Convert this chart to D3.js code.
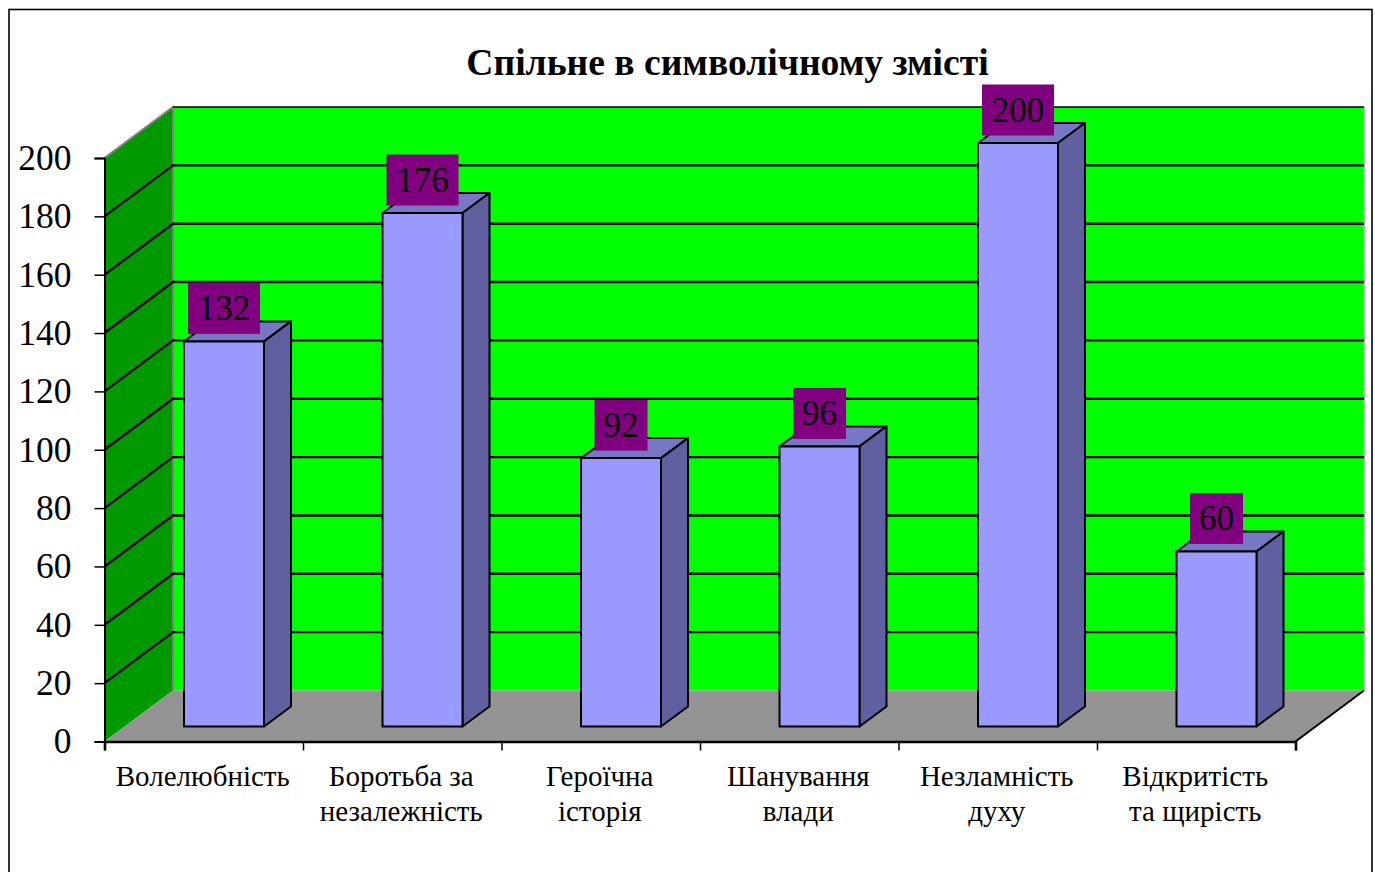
<!DOCTYPE html>
<html>
<head>
<meta charset="utf-8">
<script src="https://cdnjs.cloudflare.com/ajax/libs/d3/7.8.5/d3.min.js"></script>
<style>
html, body { margin: 0; padding: 0; background: #fff; overflow: hidden; }
svg { display: block; }
text { font-family: "Liberation Serif", serif; fill: #000; }
</style>
</head>
<body>
<div id="chart"></div>
<script>
var titleText = "Спільне в символічному змісті";
var categories = ["Волелюбність", "Боротьба за незалежність", "Героїчна історія", "Шанування влади", "Незламність духу", "Відкритість та щирість"];
var categoryLines = [["Волелюбність"], ["Боротьба за", "незалежність"], ["Героїчна", "історія"], ["Шанування", "влади"], ["Незламність", "духу"], ["Відкритість", "та щирість"]];
var values = [132, 176, 92, 96, 200, 60];
var yTicks = [0, 20, 40, 60, 80, 100, 120, 140, 160, 180, 200];

var width = 1375, height = 872;
var wallDx = 68.5, wallDy = -51; // depth of the 3d box
var barDx = 27, barDy = -20;     // depth of a bar
var barLift = 15;                // bar stands in the middle of the floor
var barLeft = 79.5, barWidth = 80;

var svg = d3.select("#chart").append("svg")
    .attr("width", width)
    .attr("height", height);

var x = d3.scaleBand().domain(categories).range([104.5, 1295.5]);
var y = d3.scaleLinear().domain([0, 200]).range([741.5, 158]);
var line = d3.line();

// outer frame, runs off the bottom of the page
svg.append("rect")
    .attr("x", 9).attr("y", 9.5)
    .attr("width", 1363).attr("height", 900)
    .attr("fill", "#fff").attr("stroke", "#000").attr("stroke-width", 1.6);

svg.append("text")
    .attr("x", 727.5).attr("y", 75)
    .attr("text-anchor", "middle")
    .attr("font-size", 37.6).attr("font-weight", "bold")
    .text(titleText);

var x0 = x.range()[0], x1 = x.range()[1], y0 = y(0), yTop = y(200);

// back wall
svg.append("path")
    .attr("d", line([[x0 + wallDx, yTop + wallDy], [x1 + wallDx, yTop + wallDy], [x1 + wallDx, y0 + wallDy], [x0 + wallDx, y0 + wallDy]]) + "Z")
    .attr("fill", "#00ff00");
// side wall
svg.append("path")
    .attr("d", line([[x0, yTop], [x0 + wallDx, yTop + wallDy], [x0 + wallDx, y0 + wallDy], [x0, y0]]) + "Z")
    .attr("fill", "#009900");
// floor
svg.append("path")
    .attr("d", line([[x0, y0], [x0 + wallDx, y0 + wallDy], [x1 + wallDx, y0 + wallDy], [x1, y0]]) + "Z")
    .attr("fill", "#949494");

// wall edges
svg.append("path")
    .attr("d", line([[x0, yTop], [x0 + wallDx, yTop + wallDy], [x0 + wallDx, y0 + wallDy]]))
    .attr("fill", "none").attr("stroke", "#808080").attr("stroke-width", 2);
svg.append("path")
    .attr("d", line([[x1 + wallDx, yTop + wallDy], [x1 + wallDx, y0 + wallDy]]))
    .attr("fill", "none").attr("stroke", "#b0b0b0").attr("stroke-width", 2);

// grid lines on both walls, the top one only along the back wall
svg.append("g").selectAll("path")
    .data(yTicks.filter(d => d > 0))
    .join("path")
    .attr("d", d => d === 200
        ? line([[x0 + wallDx, y(d) + wallDy], [x1 + wallDx, y(d) + wallDy]])
        : line([[x0, y(d)], [x0 + wallDx, y(d) + wallDy], [x1 + wallDx, y(d) + wallDy]]))
    .attr("fill", "none")
    .attr("stroke", "#000")
    .attr("stroke-width", d => d === 200 ? 1.5 : 2.4);

// floor right edge
svg.append("path")
    .attr("d", line([[x1, y0], [x1 + wallDx, y0 + wallDy]]))
    .attr("fill", "none").attr("stroke", "#000").attr("stroke-width", 2);

// bars
var bars = svg.append("g").selectAll("g")
    .data(values.map((v, i) => ({ cat: categories[i], val: v })))
    .join("g")
    .attr("stroke", "#000").attr("stroke-width", 2).attr("stroke-linejoin", "round");

bars.append("path") // top face
    .attr("fill", "#7777c4")
    .attr("d", d => {
        var l = x(d.cat) + barLeft, t = y(d.val) - barLift;
        return line([[l, t], [l + barDx, t + barDy], [l + barWidth + barDx, t + barDy], [l + barWidth, t]]) + "Z";
    });
bars.append("path") // side face
    .attr("fill", "#6060a0")
    .attr("d", d => {
        var r = x(d.cat) + barLeft + barWidth, t = y(d.val) - barLift, b = y(0) - barLift;
        return line([[r, t], [r + barDx, t + barDy], [r + barDx, b + barDy], [r, b]]) + "Z";
    });
bars.append("rect") // front face
    .attr("fill", "#9999ff")
    .attr("x", d => x(d.cat) + barLeft)
    .attr("y", d => y(d.val) - barLift)
    .attr("width", barWidth)
    .attr("height", d => y(0) - y(d.val));

// value labels
var labels = svg.append("g").selectAll("g")
    .data(values.map((v, i) => ({ cat: categories[i], val: v })))
    .join("g")
    .attr("transform", d => `translate(${x(d.cat) + barLeft + barWidth / 2},${y(d.val) - barLift - 33})`);
labels.append("rect")
    .attr("x", d => String(d.val).length > 2 ? -36 : -26.5)
    .attr("width", d => String(d.val).length > 2 ? 72 : 53)
    .attr("y", -25.5)
    .attr("height", 51)
    .attr("fill", "#800080");
labels.append("text")
    .attr("text-anchor", "middle")
    .attr("y", 12)
    .attr("font-size", 35)
    .text(d => d.val);

// y axis
var yAxis = svg.append("g")
    .attr("transform", `translate(${x0},0)`)
    .call(d3.axisLeft(y).tickValues(yTicks).tickSize(10).tickPadding(23));
yAxis.selectAll(".tick line").attr("stroke", "#000").attr("stroke-width", 1.5);
yAxis.select(".domain").attr("stroke", "#000").attr("stroke-width", 2);
yAxis.selectAll(".tick text")
    .attr("font-family", "Liberation Serif")
    .attr("font-size", 35.5)
    .attr("fill", "#000");

// x axis
var xAxis = svg.append("g")
    .attr("transform", `translate(0,${y0})`);
xAxis.append("g")
    .call(d3.axisBottom(d3.scaleLinear().domain([0, categories.length]).range([x0, x1]))
        .ticks(categories.length).tickSize(9).tickFormat(""))
    .call(g => g.select(".domain").attr("stroke", "#000").attr("stroke-width", 2.6))
    .call(g => g.selectAll(".tick line").attr("stroke", "#000").attr("stroke-width", 1.5));

svg.append("g").selectAll("text")
    .data(categories)
    .join("text")
    .attr("text-anchor", "middle")
    .attr("font-size", 29)
    .selectAll("tspan")
    .data((d, i) => categoryLines[i].map((s, j) => ({ s, j, cat: d })))
    .join("tspan")
    .attr("x", d => x(d.cat) + x.bandwidth() / 2 - 1)
    .attr("y", d => 786 + d.j * 34.5)
    .text(d => d.s);
</script>
</body>
</html>
